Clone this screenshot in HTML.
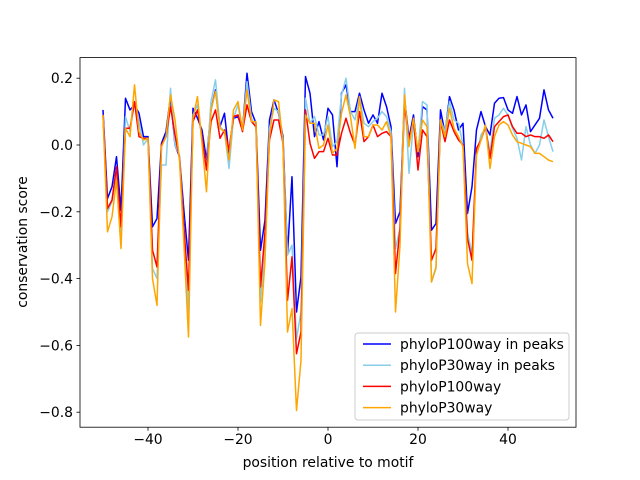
<!DOCTYPE html>
<html><head><meta charset="utf-8"><style>
body{margin:0;background:#fff;}
svg{display:block;font-family:"DejaVu Sans","Liberation Sans",sans-serif;}
</style></head><body>
<svg id="chart" width="640" height="480" viewBox="0 0 640 480">
<rect x="0" y="0" width="640" height="480" fill="#fff"/>
<g id="plot"></g>
<g id="axes"></g>
<text x="328" y="467" text-anchor="middle" font-size="13.9">position relative to motif</text>
<text transform="translate(27,242) rotate(-90)" text-anchor="middle" font-size="13.9">conservation score</text>
<g id="legend"></g>
</svg>
<script>
const positions = [];
for (let p = -50; p <= 50; p++) positions.push(p);
const phyloP100Peaks = [.105,-.16,-.125,-.035,-.195,.14,.105,.12,.095,.025,.025,-.245,-.22,.005,.04,.145,0,-.035,-.2,-.345,.11,.08,.045,-.045,.105,.165,.055,.095,-.03,.08,.085,.045,.215,.1,.065,-.315,-.225,.075,.135,.095,.025,-.325,-.095,-.5,-.395,.205,.155,.025,.07,.015,.11,.09,-.065,.155,.18,.1,.1,.155,.105,.065,.09,.065,.155,.115,.055,-.235,-.2,.14,.02,.09,-.035,.115,.105,-.255,-.235,.105,.035,.145,.105,.045,.065,-.205,-.125,.045,.1,.055,.03,.125,.14,.142,.105,.095,.145,.09,.12,.04,.06,.08,.165,.105,.08];
const phyloP30Peaks = [.09,-.2,-.17,-.08,-.27,.085,.04,.13,.07,0,.02,-.37,-.4,-.06,-.06,.17,0,-.03,-.25,-.5,.09,.12,.02,-.07,.13,.195,.055,.04,-.07,.08,.12,.045,.19,.08,.05,-.47,-.3,.05,.11,.1,.015,-.33,-.3,-.58,-.5,.14,.065,.085,.03,.03,.085,-.005,.01,.15,.2,.1,.075,.145,.065,.055,.07,.08,.1,.085,.04,-.31,-.25,.17,-.085,.065,-.02,.13,.12,-.41,-.37,.075,.04,.13,.075,.065,0,-.26,-.33,-.03,.03,.05,-.02,.08,.09,.11,.09,.05,.02,-.045,.055,0,-.025,0,.075,.025,-.02];
const phyloP100 = [.09,-.19,-.165,-.065,-.245,.05,.05,.13,.025,.02,.02,-.315,-.365,0,.025,.115,.03,-.04,-.25,-.435,.07,.105,.025,-.075,.07,.105,.02,.045,-.015,.085,.09,.04,.12,.07,.055,-.425,-.26,.015,.075,.075,.005,-.465,-.335,-.625,-.56,.105,.005,-.04,-.02,-.02,.02,-.03,-.03,.035,.08,.035,0,.1,.01,.025,.06,.025,.035,.04,.025,-.385,-.25,.12,.015,.075,-.075,.045,.025,-.345,-.31,.07,.01,.075,.04,.015,0,-.28,-.345,-.01,.015,.055,-.04,.055,.07,.085,.09,.055,.035,.035,.025,.03,.025,.025,.02,.03,.01];
const phyloP30 = [.09,-.26,-.215,-.105,-.31,.05,.025,.18,.04,.015,.02,-.4,-.48,-.005,.025,.15,.075,-.045,-.3,-.575,.08,.145,.005,-.14,.105,.16,.05,.04,-.045,.105,.13,.045,.165,.07,.07,-.54,-.345,.025,.135,.13,.005,-.56,-.49,-.795,-.645,.09,.065,.065,-.01,0,.06,-.025,-.01,.095,.15,.085,-.01,.145,.025,.025,.06,.06,.045,.07,.025,-.5,-.3,.15,-.005,.08,-.02,.075,.055,-.41,-.365,.075,.025,.11,.05,.025,-.005,-.355,-.415,-.03,.015,.06,-.07,.025,.06,.07,.06,.03,.01,.005,0,-.005,-.025,-.025,-.035,-.045,-.05];
const xTicks = [-40,-20,0,20,40];
const yTicks = [-0.8,-0.6,-0.4,-0.2,0.0,0.2];
const seriesNames = ["phyloP100way in peaks","phyloP30way in peaks","phyloP100way","phyloP30way"];

const L=80,R=576,T=57.6,B=427.2;
const xs = v => 328 + v*4.5;
const ys = v => 145 - v*334;
const NS="http://www.w3.org/2000/svg";
function mk(tag, attrs, parent){const e=document.createElementNS(NS,tag);for(const k in attrs)e.setAttribute(k,attrs[k]);parent.appendChild(e);return e;}
const plot=document.getElementById('plot'), axes=document.getElementById('axes'), legend=document.getElementById('legend');
const series=[[phyloP100Peaks,"#0000ff","phyloP100way-peaks-line"],[phyloP30Peaks,"#87ceeb","phyloP30way-peaks-line"],[phyloP100,"#ff0000","phyloP100way-line"],[phyloP30,"#ffa500","phyloP30way-line"]];
series.forEach(s=>{
  const d=s[0].map((v,i)=>(i?'L':'M')+xs(positions[i]).toFixed(2)+','+ys(v).toFixed(2)).join('');
  const p=mk('path',{d:d,fill:'none',stroke:s[1],'stroke-width':1.5,'stroke-linejoin':'round'},plot);
  
  
});
const frame=mk('rect',{x:L,y:T,width:R-L,height:B-T,fill:'none',stroke:'#000','stroke-width':0.8},axes);


xTicks.forEach(t=>{
  const x=xs(t);
  const tk=mk('line',{x1:x,x2:x,y1:B,y2:B+3.5,stroke:'#000','stroke-width':0.8},axes);
  
  
  const tx=mk('text',{x:x,y:B+17,'text-anchor':'middle','font-size':13.9},axes);
  tx.textContent=String(t).replace('-','\u2212');
  
  
});
yTicks.forEach(t=>{
  const y=ys(t);
  const tk=mk('line',{x1:L-3.5,x2:L,y1:y,y2:y,stroke:'#000','stroke-width':0.8},axes);
  
  
  const tx=mk('text',{x:L-7,y:y+5,'text-anchor':'end','font-size':13.9},axes);
  tx.textContent=t.toFixed(1).replace('-','\u2212');
  
  
});
const lb=mk('rect',{x:355,y:333,width:214,height:87,rx:3,fill:'#fff','fill-opacity':0.8,stroke:'#ccc','stroke-width':1},legend);


seriesNames.forEach((n,i)=>{
  const y=344+i*21.2;
  const ln=mk('line',{x1:363,x2:391,y1:y,y2:y,stroke:series[i][1],'stroke-width':1.5},legend);
  
  
  const tx=mk('text',{x:400,y:y+5,'font-size':13.9},legend);
  tx.textContent=n;
  
  
});
</script>
</body></html>
